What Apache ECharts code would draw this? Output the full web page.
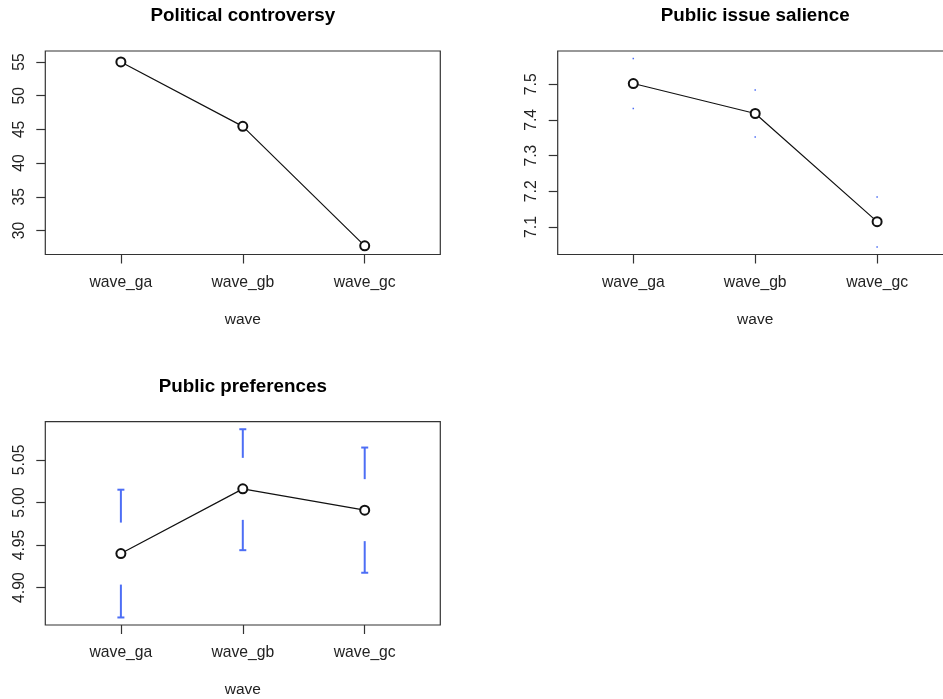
<!DOCTYPE html>
<html>
<head>
<meta charset="utf-8">
<script src="https://cdn.jsdelivr.net/npm/echarts@6/dist/echarts.min.js"></script>
<style>
  html, body { margin: 0; padding: 0; background: #fff; overflow: hidden; }
  /* the right-hand panel runs slightly past the page edge */
  #chart { width: 960px; height: 699px; }
</style>
</head>
<body>
<div id="chart"></div>
<script>
// Waves on the x axis
const waves = ['wave_ga', 'wave_gb', 'wave_gc'];

// Political controversy: mean and confidence interval per wave
const controversyMean = [55.0, 45.45, 27.73];
const controversyLow  = [54.5, 44.9, 27.56];
const controversyHigh = [55.51, 46.0, 27.9];
const controversyTicks = [30, 35, 40, 45, 50, 55];

// Public issue salience
const salienceMean = [7.502, 7.418, 7.115];
const salienceLow  = [7.432, 7.352, 7.044];
const salienceHigh = [7.572, 7.484, 7.184];
const salienceTicks = [7.1, 7.2, 7.3, 7.4, 7.5];

// Public preferences
const preferenceMean = [4.940, 5.016, 4.991];
const preferenceLow  = [4.865, 4.944, 4.9175];
const preferenceHigh = [5.015, 5.086, 5.0645];
const preferenceTicks = [4.90, 4.95, 5.00, 5.05];

const FONT = '"Liberation Sans", Arial, Helvetica, sans-serif';
const AXIS_COLOR = '#333';
const CI_COLOR = '#4d6ef5';

// R-style axis limits: data range padded by 4% on each side
function padRange(lo, hi) {
  const d = (hi - lo) * 0.04;
  return [lo - d, hi + d];
}

// Error bars with a gap around the point marker
function renderCI(params, api) {
  const x = api.value(0);
  const lo = api.coord([x, api.value(1)]);
  const hi = api.coord([x, api.value(2)]);
  const mid = api.coord([x, api.value(3)]);
  const gap = 31, capHalf = 3.5;
  const style = { stroke: CI_COLOR, lineWidth: 2 };
  const children = [];
  const arm = function (end, limit, dir) {
    // dir = -1 for upper arm, +1 for lower arm
    if ((limit - end[1]) * dir < 0) {
      children.push({ type: 'line', shape: { x1: end[0], y1: end[1], x2: end[0], y2: limit }, style: style });
      children.push({ type: 'line', shape: { x1: end[0] - capHalf, y1: end[1], x2: end[0] + capHalf, y2: end[1] }, style: style });
    } else {
      children.push({ type: 'rect', shape: { x: end[0] - 0.75, y: end[1] - 0.75, width: 1.5, height: 1.5 }, style: { fill: CI_COLOR } });
    }
  };
  arm(hi, mid[1] - gap, -1);
  arm(lo, mid[1] + gap, 1);
  return { type: 'group', children: children };
}

const panels = [
  { title: 'Political controversy', left: 45.3, top: 51, mean: controversyMean, low: controversyLow, high: controversyHigh, ticks: controversyTicks, fmt: v => String(v) },
  { title: 'Public issue salience', left: 557.7, top: 51, mean: salienceMean, low: salienceLow, high: salienceHigh, ticks: salienceTicks, fmt: v => v.toFixed(1) },
  { title: 'Public preferences', left: 45.3, top: 421.7, mean: preferenceMean, low: preferenceLow, high: preferenceHigh, ticks: preferenceTicks, fmt: v => v.toFixed(2) }
];
const PW = 395, PH = 203.5;

const grid = [], xAxis = [], yAxis = [], series = [], graphic = [];
panels.forEach(function (p, i) {
  grid.push({
    left: p.left, top: p.top, width: PW, height: PH,
    show: true, borderColor: AXIS_COLOR, borderWidth: 1.2, backgroundColor: 'transparent'
  });
  const positions = waves.map((w, k) => k + 1);
  xAxis.push({
    type: 'value', gridIndex: i, min: 0.38, max: 3.62,
    name: 'wave', nameLocation: 'middle', nameGap: 57,
    nameTextStyle: { fontFamily: FONT, fontSize: 15.5, color: '#222' },
    axisLine: { show: false }, splitLine: { show: false },
    axisTick: { show: true, length: 9, customValues: positions, lineStyle: { color: AXIS_COLOR, width: 1.2 } },
    axisLabel: { customValues: positions, margin: 20, fontFamily: FONT, fontSize: 15.7, color: '#222',
      formatter: v => waves[Math.round(v) - 1] || '' }
  });
  const lo = Math.min.apply(null, p.low), hi = Math.max.apply(null, p.high);
  const r = padRange(lo, hi);
  yAxis.push({
    type: 'value', gridIndex: i, min: r[0], max: r[1],
    axisLine: { show: false }, splitLine: { show: false },
    axisTick: { show: true, length: 9, customValues: p.ticks, lineStyle: { color: AXIS_COLOR, width: 1.2 } },
    axisLabel: { customValues: p.ticks, rotate: 90, margin: 18, fontFamily: FONT, fontSize: 15.7, color: '#222',
      formatter: v => p.fmt(v) }
  });
  series.push({
    type: 'custom', xAxisIndex: i, yAxisIndex: i, renderItem: renderCI, z: 2,
    data: waves.map((w, k) => [k + 1, p.low[k], p.high[k], p.mean[k]])
  });
  series.push({
    type: 'line', xAxisIndex: i, yAxisIndex: i, z: 3,
    data: waves.map((w, k) => [k + 1, p.mean[k]]),
    symbol: 'emptyCircle', symbolSize: 9,
    itemStyle: { color: '#111', borderColor: '#111', borderWidth: 1.2 },
    lineStyle: { color: '#111', width: 1.2 },
    emphasis: { disabled: true }, animation: false
  });
  graphic.push({
    type: 'text', x: p.left + PW / 2, y: p.top - 35,
    style: { text: p.title, font: 'bold 18.8px ' + FONT, fill: '#000', textAlign: 'center', textVerticalAlign: 'middle' }
  });
});

const chart = echarts.init(document.getElementById('chart'), null, { renderer: 'canvas' });
chart.setOption({
  animation: false,
  backgroundColor: '#fff',
  grid: grid, xAxis: xAxis, yAxis: yAxis, series: series, graphic: graphic
});
</script>
</body>
</html>
